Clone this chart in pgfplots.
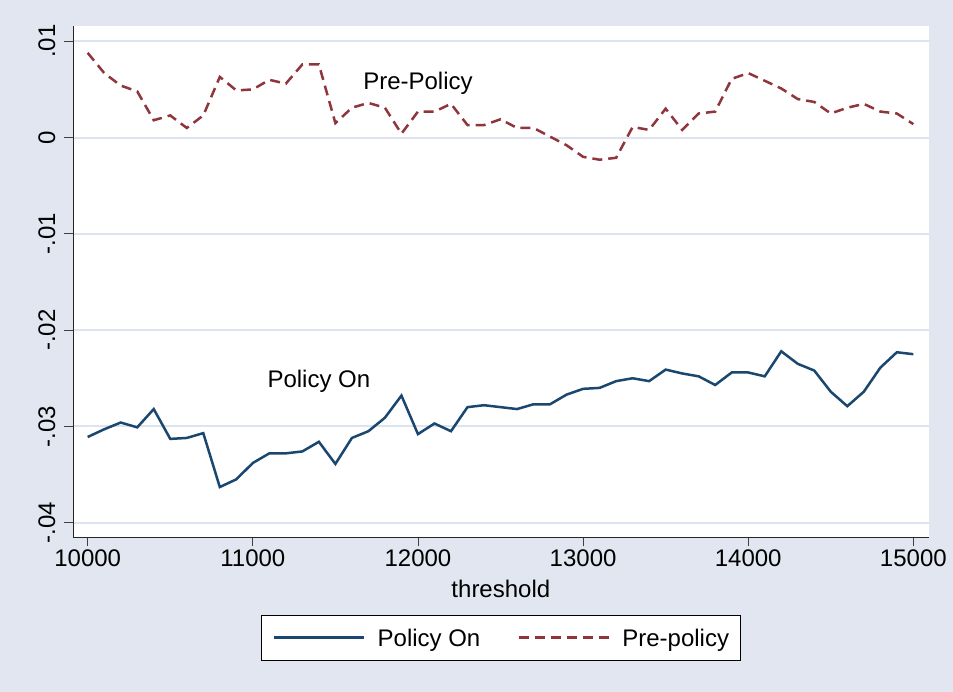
\documentclass[border=0pt]{standalone}
\usepackage{fontspec}
\setmainfont{Liberation Sans}
\usepackage{pgfplots}
\usepackage{pgfplotstable}
\pgfplotsset{compat=1.18}
\definecolor{bgcol}{RGB}{225,230,240}
\definecolor{gridcol}{RGB}{221,227,239}
\definecolor{navy}{RGB}{26,71,111}
\definecolor{maroon}{RGB}{144,53,59}
\newcommand{\cf}{\fontsize{24bp}{28.8bp}\selectfont}

\pgfplotstableread{
x y
10000 -0.0311
10100 -0.0303
10200 -0.0296
10300 -0.0301
10400 -0.0282
10500 -0.0313
10600 -0.0312
10700 -0.0307
10800 -0.0363
10900 -0.0355
11000 -0.0338
11100 -0.0328
11200 -0.0328
11300 -0.0326
11400 -0.0316
11500 -0.0339
11600 -0.0312
11700 -0.0305
11800 -0.0291
11900 -0.0268
12000 -0.0308
12100 -0.0297
12200 -0.0305
12300 -0.0280
12400 -0.0278
12500 -0.0280
12600 -0.0282
12700 -0.0277
12800 -0.0277
12900 -0.0267
13000 -0.0261
13100 -0.0260
13200 -0.0253
13300 -0.0250
13400 -0.0253
13500 -0.0241
13600 -0.0245
13700 -0.0248
13800 -0.0257
13900 -0.0244
14000 -0.0244
14100 -0.0248
14200 -0.0222
14300 -0.0235
14400 -0.0242
14500 -0.0264
14600 -0.0279
14700 -0.0264
14800 -0.0239
14900 -0.0223
15000 -0.0225
}\policyon

\pgfplotstableread{
x y
10000 0.0088
10100 0.0067
10200 0.0054
10300 0.0048
10400 0.0018
10500 0.0023
10600 0.0010
10700 0.0023
10800 0.0063
10900 0.0049
11000 0.0050
11100 0.0060
11200 0.0056
11300 0.0076
11400 0.0076
11500 0.0015
11600 0.0031
11700 0.0036
11800 0.0031
11900 0.0004
12000 0.0027
12100 0.0027
12200 0.0035
12300 0.0013
12400 0.0013
12500 0.0019
12600 0.0010
12700 0.0010
12800 0.0001
12900 -0.0008
13000 -0.0020
13100 -0.0023
13200 -0.0021
13300 0.0011
13400 0.0008
13500 0.0030
13600 0.0008
13700 0.0025
13800 0.0027
13900 0.0061
14000 0.0067
14100 0.0059
14200 0.0051
14300 0.0040
14400 0.0037
14500 0.0025
14600 0.0031
14700 0.0035
14800 0.0027
14900 0.0025
15000 0.0014
}\prepolicy

\begin{document}
\begin{tikzpicture}
\fill[bgcol] (0bp,0bp) rectangle (953bp,692bp);
\begin{axis}[
  at={(73bp,154.7bp)}, anchor=south west,
  scale only axis, width=855.7bp, height=511.3bp,
  xmin=9911, xmax=15093, ymin=-0.04152, ymax=0.01159,
  scaled ticks=false,
  axis background/.style={fill=white},
  axis x line*=bottom, axis y line*=left,
  axis line style={-, black!85, line width=0.9bp},
  tick align=outside, xtick pos=bottom, ytick pos=left,
  major tick length=9bp,
  tick style={black!75, line width=0.9bp},
  xtick={10000,11000,12000,13000,14000,15000},
  xticklabels={10000,11000,12000,13000,14000,15000},
  ytick={-0.04,-0.03,-0.02,-0.01,0,0.01},
  yticklabels={-.04,-.03,-.02,-.01,0,.01},
  tick label style={font=\cf},
  yticklabel style={xshift=-5bp, rotate=90, anchor=south},
  ymajorgrids, major grid style={gridcol, line width=2bp},
  xlabel={threshold},
  xlabel style={font=\cf, at={(axis description cs:0.5,-0.1168)}, anchor=base},
  legend columns=2,
  legend cell align=left,
  legend image code/.code={\draw[#1] (0bp,0bp) -- (90.5bp,0bp);},
  legend style={font=\cf, at={(0.5,-0.152)}, anchor=north,
    draw=black, line width=0.8bp, fill=white,
    inner xsep=11bp, inner ysep=0bp,
    nodes={inner sep=0pt, text height=31.5bp, text depth=13bp},
    /tikz/every odd column/.append style={column sep=12bp},
    /tikz/every even column/.append style={column sep=37bp}},
]
\addplot[navy, line width=2.5bp] table[x=x,y=y] {\policyon};
\addlegendentry{Policy On}
\addplot[maroon, line width=2.5bp, dash pattern=on 10bp off 6bp] table[x=x,y=y] {\prepolicy};
\addlegendentry{Pre-policy}
\node[font=\cf, anchor=base] at (axis cs:12000,0.0050) {Pre-Policy};
\node[font=\cf, anchor=base] at (axis cs:11400,-0.0260) {Policy On};
\end{axis}
\end{tikzpicture}
\end{document}
